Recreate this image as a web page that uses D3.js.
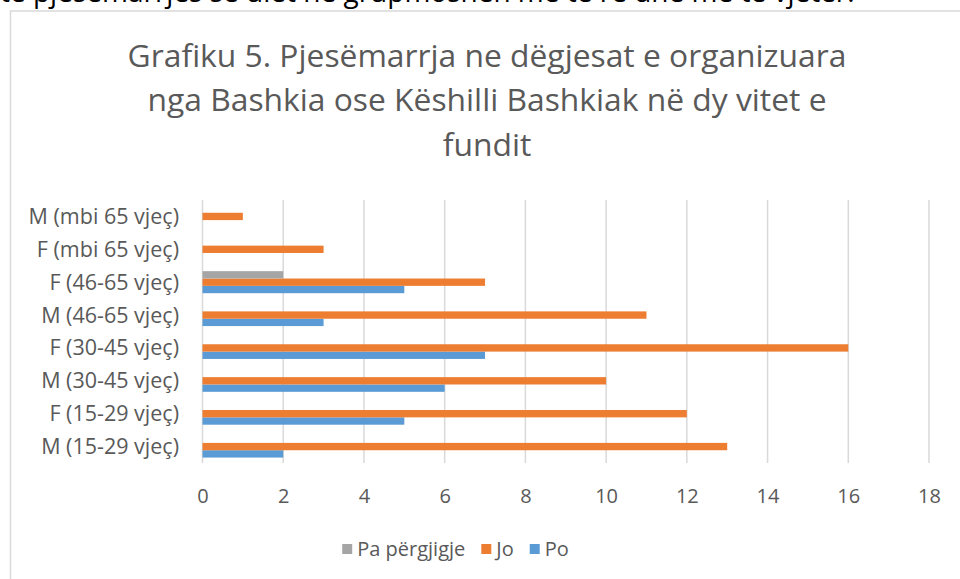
<!DOCTYPE html>
<html>
<head>
<meta charset="utf-8">
<script src="https://cdn.jsdelivr.net/npm/d3@7"></script>
<style>
  body { margin: 0; background: #fff; }
  svg text { font-family: "Open Sans", "Noto Sans", sans-serif; }
</style>
</head>
<body>
<svg id="chart" width="960" height="579"></svg>
<script>
// categories, bottom to top as in the picture
const categories = [
  "M (15-29 vjeç)", "F (15-29 vjeç)", "M (30-45 vjeç)", "F (30-45 vjeç)",
  "M (46-65 vjeç)", "F (46-65 vjeç)", "F (mbi 65 vjeç)", "M (mbi 65 vjeç)"
];
const seriesNames = ["Po", "Jo", "Pa përgjigje"];
const poValues = [2, 5, 6, 7, 3, 5, 0, 0];
const joValues = [13, 12, 10, 16, 11, 7, 3, 1];
const paValues = [0, 0, 0, 0, 0, 2, 0, 0];
const xTicks = [0, 2, 4, 6, 8, 10, 12, 14, 16, 18];
const legendOrder = ["Pa përgjigje", "Jo", "Po"];
const titleLines = [
  "Grafiku 5. Pjesëmarrja ne dëgjesat e organizuara",
  "nga Bashkia ose Këshilli Bashkiak në dy vitet e",
  "fundit"
];
const aboveText = "të pjesëmarrjes së ulët në grupmoshën me të re dhe më të vjetër.";

const colors = { "Po": "#5B9BD5", "Jo": "#ED7D31", "Pa përgjigje": "#A5A5A5" };
const textColor = "#595959";

const svg = d3.select("#chart");

// line of body text cut off above the chart (it is cut in the source too)
svg.append("text")
  .attr("x", 0).attr("y", 1.5)
  .attr("fill", "#000")
  .style("font-size", "28px")
  .text(aboveText);

// chart frame
svg.append("rect")
  .attr("x", 10.5).attr("y", 11)
  .attr("width", 1000).attr("height", 700)
  .attr("fill", "none")
  .attr("stroke", "#D9D9D9")
  .attr("stroke-width", 1.5);

// title
const title = svg.append("text")
  .attr("text-anchor", "middle")
  .attr("fill", textColor)
  .style("font-size", "31.8px");
title.selectAll("tspan")
  .data(titleLines)
  .join("tspan")
    .attr("x", 487)
    .attr("y", (d, i) => 66.7 + i * 44.5)
    .text(d => d);

const plot = { left: 202.5, right: 929, top: 200, bottom: 463 };

const x = d3.scaleLinear().domain([0, 18]).range([plot.left, plot.right]);
const y = d3.scaleBand()
  .domain(categories.slice().reverse())
  .range([plot.top, plot.bottom])
  .paddingInner(0.33).paddingOuter(0.165);
const ySub = d3.scaleBand()
  .domain(seriesNames.slice().reverse())
  .range([0, y.bandwidth()]);

// gridlines
svg.append("g")
  .selectAll("line")
  .data(xTicks)
  .join("line")
    .attr("x1", d => x(d)).attr("x2", d => x(d))
    .attr("y1", plot.top).attr("y2", plot.bottom)
    .attr("stroke", "#D9D9D9")
    .attr("stroke-width", 1.5);

// bars
const seriesData = [
  { name: "Po", values: poValues },
  { name: "Jo", values: joValues },
  { name: "Pa përgjigje", values: paValues }
];
const rows = [];
seriesData.forEach(s => {
  s.values.forEach((v, i) => rows.push({ series: s.name, cat: categories[i], value: v }));
});
svg.append("g")
  .selectAll("rect")
  .data(rows.filter(d => d.value > 0))
  .join("rect")
    .attr("x", x(0))
    .attr("y", d => y(d.cat) + ySub(d.series))
    .attr("width", d => x(d.value) - x(0))
    .attr("height", ySub.bandwidth())
    .attr("fill", d => colors[d.series]);

// x axis labels
const xAxis = svg.append("g")
  .attr("transform", `translate(0,${plot.bottom})`)
  .call(d3.axisBottom(x).tickValues(xTicks).tickSize(0).tickPadding(0));
xAxis.select(".domain").remove();
xAxis.selectAll("text")
  .attr("dy", null).attr("y", 39.5)
  .attr("fill", textColor)
  .style("font-size", "20px");

// y axis labels
const yAxis = svg.append("g")
  .attr("transform", `translate(179,0)`)
  .call(d3.axisLeft(y).tickSize(0).tickPadding(0));
yAxis.select(".domain").remove();
yAxis.selectAll("text")
  .attr("dy", "0.35em")
  .attr("fill", textColor)
  .style("font-size", "21.5px");

// legend, laid out from measured text widths and centred under the plot
const legendCenter = 455.5;
const legend = svg.append("g");
const items = legend.selectAll("g")
  .data(legendOrder)
  .join("g");
items.append("rect")
  .attr("width", 10).attr("height", 10)
  .attr("fill", d => colors[d]);
items.append("text")
  .attr("x", 15).attr("y", 12)
  .attr("fill", textColor)
  .style("font-size", "20px")
  .text(d => d);
let cursor = 0;
items.each(function () {
  const w = d3.select(this).select("text").node().getComputedTextLength();
  d3.select(this).attr("transform", `translate(${cursor},544)`);
  cursor += 15 + w + 16;
});
const legendWidth = cursor - 16;
legend.attr("transform", `translate(${legendCenter - legendWidth / 2},0)`);
</script>
</body>
</html>
